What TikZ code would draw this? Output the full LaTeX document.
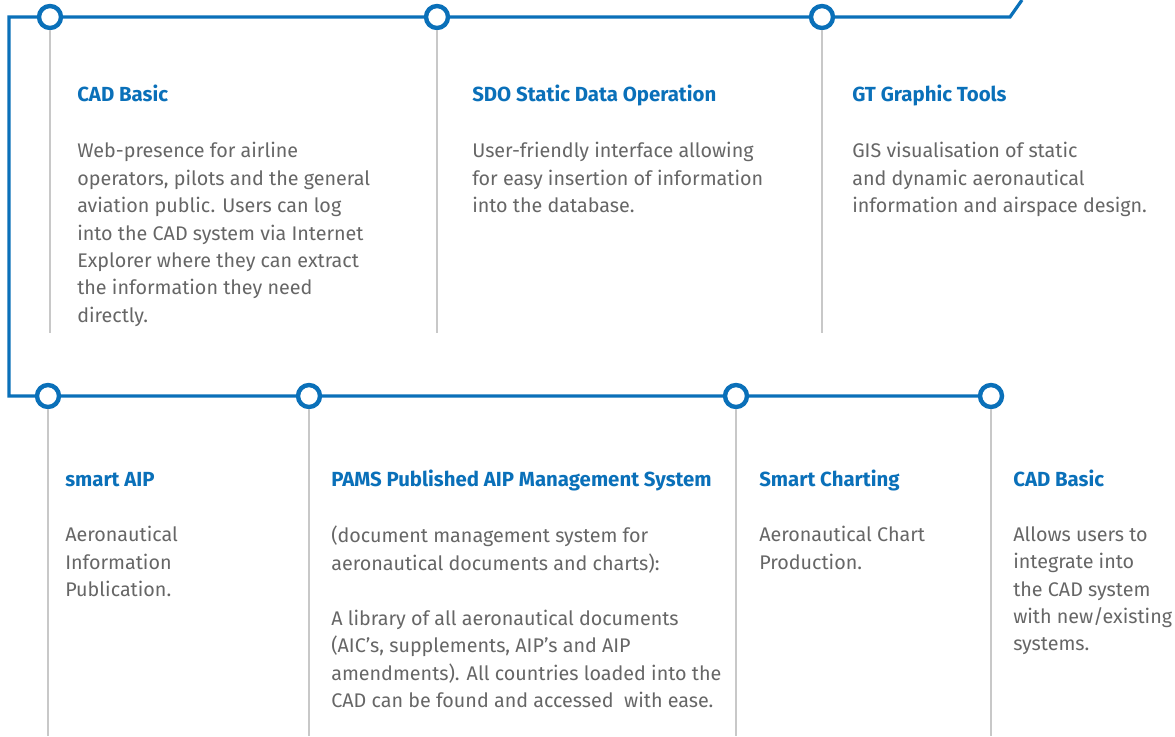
\documentclass[tikz,border=0pt]{standalone}
\usepackage{fontspec}
\setmainfont{Fira Sans}
\usetikzlibrary{calc}
\definecolor{lineblue}{HTML}{0A70B9}
\definecolor{stemgray}{HTML}{C8C8C8}
\definecolor{textgray}{HTML}{666666}
\tikzstyle{stop node} = [circle,draw=lineblue,line width=3.3pt,fill=white,minimum size=16.5pt,inner sep=0]
\tikzstyle{route}     = [draw=lineblue,line width=2.4pt]
\tikzstyle{stem}      = [draw=stemgray,line width=2.2pt]
\tikzstyle{title}     = [anchor=base west,inner sep=0,text=lineblue,font=\fontsize{15.3}{20.6}\selectfont\bfseries]
\tikzstyle{body}      = [anchor=north west,inner sep=0,align=left,text=textgray,font=\fontsize{14.8}{20.6}\selectfont]

\begin{document}
\begin{tikzpicture}[x=0.75pt,y=-0.75pt]

    \useasboundingbox (0,0) rectangle (1175,736);

    % route corners
    \coordinate (exit) at (1022,0);
    \coordinate (bend) at (1010,17);
    \coordinate (tl) at (9,17);
    \coordinate (bl) at (9,396);

    % top stops
    \node(t1)[stop node] at (50,17) {};
    \node(t2)[stop node] at (437,17) {};
    \node(t3)[stop node] at (822,17) {};

    % bottom stops
    \node(b1)[stop node] at (48,396) {};
    \node(b2)[stop node] at (309,396) {};
    \node(b3)[stop node] at (736,396) {};
    \node(b4)[stop node] at (991,396) {};

    \draw[route] (exit) -- (bend) -- (t3) -- (t2) -- (t1) -- (tl) -- (bl) -- (b1) -- (b2) -- (b3) -- (b4);

    % stems
    \draw[stem] (t1) -- (t1 |- 0,333);
    \draw[stem] (t2) -- (t2 |- 0,333);
    \draw[stem] (t3) -- (t3 |- 0,333);
    \draw[stem] (b1) -- (b1 |- 0,736);
    \draw[stem] (b2) -- (b2 |- 0,736);
    \draw[stem] (b3) -- (b3 |- 0,736);
    \draw[stem] (b4) -- (b4 |- 0,736);

    % top texts
    \node(cad)[title] at (77,101) {CAD Basic};
    \node(cadtxt)[body] at (77,142) {Web-presence for airline\\operators, pilots and the general\\aviation public. Users can log\\into the CAD system via Internet\\Explorer where they can extract\\the information they need\\directly.};

    \node(sdo)[title] at (472,101) {SDO Static Data Operation};
    \node(sdotxt)[body] at (472,142) {User-friendly interface allowing\\for easy insertion of information\\into the database.};

    \node(gt)[title] at (852,101) {GT Graphic Tools};
    \node(gttxt)[body] at (852,142) {GIS visualisation of static\\and dynamic aeronautical\\information and airspace design.};

    % bottom texts
    \node(aip)[title] at (65,486) {smart AIP};
    \node(aiptxt)[body] at (65,526) {Aeronautical\\Information\\Publication.};

    \node(pams)[title] at (331,486) {PAMS Published AIP Management System};
    \node(pamstxt)[body] at (331,526) {(document management system for\\aeronautical documents and charts):\\[20.6pt]A library of all aeronautical documents\\(AIC’s, supplements, AIP’s and AIP\\amendments). All countries loaded into the\\CAD can be found and accessed~ with ease.};

    \node(chart)[title] at (759,486) {Smart Charting};
    \node(charttxt)[body] at (759,526) {Aeronautical Chart\\Production.};

    \node(cad2)[title] at (1013,486) {CAD Basic};
    \node(cad2txt)[body] at (1013,526) {Allows users to\\integrate into\\the CAD system\\with new/existing\\systems.};

\end{tikzpicture}
\end{document}
